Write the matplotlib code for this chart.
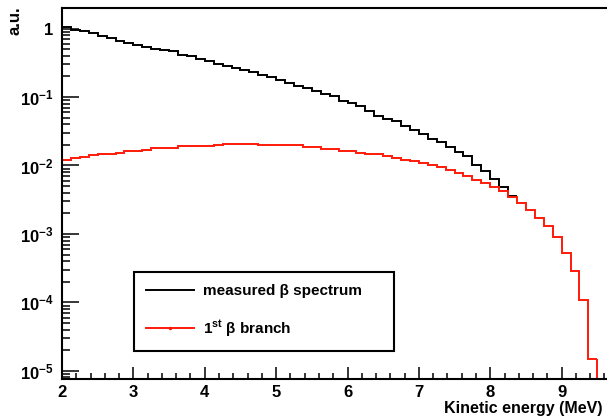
#!/usr/bin/env python
import numpy as np
import matplotlib
matplotlib.use("Agg")
import matplotlib.pyplot as plt
from matplotlib.lines import Line2D
from matplotlib.ticker import MultipleLocator, LogLocator, FuncFormatter, NullFormatter

########################### data ############################

bin_width = 0.125
e_start = 2.0

# measured beta spectrum (a.u.), one value per 0.125 MeV bin from 2 MeV
measured = [1.04, 0.97, 0.91, 0.85, 0.79, 0.73, 0.67, 0.62, 0.57, 0.53, 0.50, 0.48,
            0.466, 0.417, 0.394, 0.364, 0.333, 0.308, 0.288, 0.266, 0.246, 0.230, 0.212, 0.197,
            0.180, 0.161, 0.143, 0.136, 0.124, 0.111, 0.102, 0.0886, 0.0820, 0.0731, 0.0618, 0.0522,
            0.0483, 0.0441, 0.0373, 0.0334, 0.0286, 0.0248, 0.0219, 0.0185, 0.0156, 0.0136,
            0.0103, 0.0082, 0.0064, 0.00485, 0.00361]

# first beta branch (a.u.)
branch1 = [0.0119, 0.0127, 0.0133, 0.0141, 0.0147, 0.0147, 0.0152, 0.0161, 0.0161, 0.0170,
           0.0182, 0.0182, 0.0182, 0.0195, 0.0195, 0.0195, 0.0195, 0.0197, 0.0206, 0.0206,
           0.0206, 0.0206, 0.0197, 0.0197, 0.0197, 0.0197, 0.0197, 0.0184, 0.0184, 0.0172,
           0.0172, 0.0161, 0.0161, 0.0150, 0.0145, 0.0145, 0.0138, 0.0129, 0.0120, 0.0115,
           0.0109, 0.0100, 0.00938, 0.00869, 0.00776, 0.00710, 0.00619, 0.00555, 0.00485, 0.00418,
           0.00346, 0.00283, 0.00226, 0.00171, 0.00129, 0.000902, 0.000526, 0.000283, 0.000107, 0.0000150]

x_ticks = [2, 3, 4, 5, 6, 7, 8, 9]
labels = ["measured \u03b2 spectrum", "1$^{\\mathbf{st}}$ \u03b2 branch"]

########################### settings ############################

W, H = 607, 419
font = 'Liberation Sans'
plt.rcParams['font.family'] = font
plt.rcParams['font.weight'] = 'bold'
plt.rcParams['mathtext.fontset'] = 'custom'
plt.rcParams['mathtext.rm'] = font
plt.rcParams['mathtext.bf'] = font + ':bold'
plt.rcParams['mathtext.default'] = 'bf'

spine_width = 1.5
hist_width = 1.4
tick_labelsize = 12
red = '#ff1a0a'
ymin, ymax = 7.6e-6, 2.0

edges_m = e_start + bin_width * np.arange(len(measured) + 1)
edges_b = e_start + bin_width * np.arange(len(branch1) + 1)

fig = plt.figure(figsize=(W / 100, H / 100), dpi=100)
ax = fig.add_axes([62 / W, 40 / H, 571 / W, 371 / H])

ax.stairs(measured, edges_m, baseline=None, color='black', linewidth=hist_width)
ax.stairs(branch1, edges_b, baseline=None, color=red, linewidth=hist_width)
ax.vlines(edges_b[-1], ymin, branch1[-1], color=red, linewidth=hist_width)

ax.set_yscale('log')
ax.set_xlim(2, 10)
ax.set_ylim(ymin, ymax)

for s in ax.spines.values():
    s.set_linewidth(spine_width)

ax.set_xticks(x_ticks)
ax.xaxis.set_minor_locator(MultipleLocator(0.2))
ax.yaxis.set_major_locator(LogLocator(base=10, numticks=20))
ax.yaxis.set_minor_locator(LogLocator(base=10, subs=np.arange(2, 10), numticks=20))
ax.yaxis.set_minor_formatter(NullFormatter())


def yfmt(v, pos):
    n = int(round(np.log10(v)))
    if n == 0:
        return '1'
    return r'$\mathbf{10^{%d}}$' % n


ax.yaxis.set_major_formatter(FuncFormatter(yfmt))

ax.tick_params(axis='x', which='major', direction='in', length=8.6, width=1.1, pad=4, labelsize=tick_labelsize)
ax.tick_params(axis='x', which='minor', direction='in', length=4.3, width=1.1)
ax.tick_params(axis='y', which='major', direction='in', length=12, width=1.1, pad=6, labelsize=tick_labelsize)
ax.tick_params(axis='y', which='minor', direction='in', length=6, width=1.1)
ax.tick_params(top=False, right=False)

handles = [Line2D([], [], color='black', linewidth=hist_width),
           Line2D([], [], color=red, linewidth=hist_width, marker='.', markersize=3)]
leg = ax.legend(handles, labels, loc='lower left',
                bbox_to_anchor=(0.126, 0.0755, 0.455, 0.213), mode='expand',
                borderaxespad=0, fancybox=False, framealpha=1, edgecolor='black',
                handlelength=3.1, handletextpad=0.65, labelspacing=1.3, borderpad=0.8,
                prop=dict(family=font, weight='bold', size=11))
leg.get_frame().set_linewidth(1.5)

fig.text(15 / W, 1 - 21 / H, 'a.u.', rotation=90, ha='center', va='center',
         fontsize=12, fontweight='bold')
fig.text(603 / W, 1 - 408 / H, 'Kinetic energy (MeV)', ha='right', va='center',
         fontsize=11.5, fontweight='bold')

fig.savefig('out.png', dpi=100)
